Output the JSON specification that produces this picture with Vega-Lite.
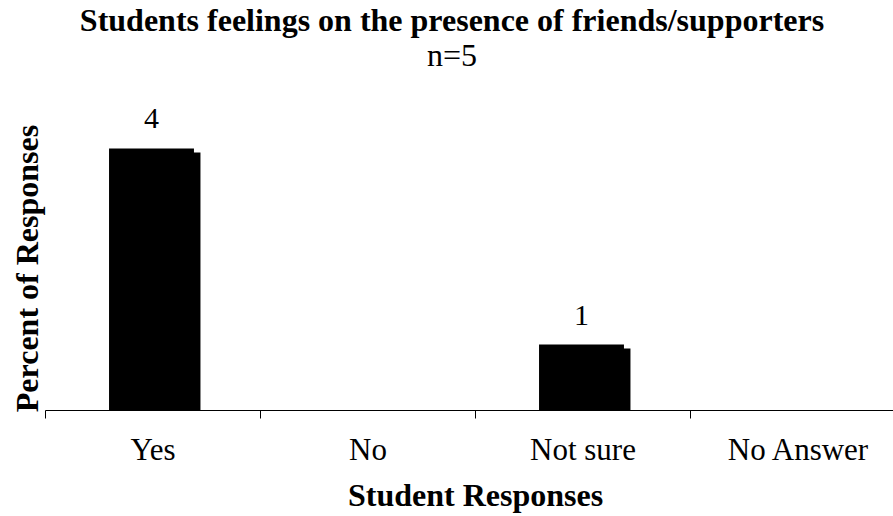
{
  "$schema": "https://vega.github.io/schema/vega-lite/v6.json",
  "autosize": "none",
  "width": 848,
  "height": 327,
  "padding": {"left": 45, "top": 83, "right": 0, "bottom": 106},
  "background": "white",
  "title": {
    "text": "Students feelings on the presence of friends/supporters",
    "subtitle": "n=5",
    "font": "Liberation Serif",
    "fontSize": 32,
    "fontWeight": "bold",
    "color": "black",
    "subtitleFont": "Liberation Serif",
    "subtitleFontSize": 32,
    "subtitleFontWeight": "normal",
    "subtitleColor": "black",
    "subtitlePadding": 3,
    "anchor": "middle",
    "frame": "group",
    "dx": -17,
    "offset": 10
  },
  "data": {
    "values": [
      {"response": "Yes", "count": 4},
      {"response": "No", "count": 0},
      {"response": "Not sure", "count": 1},
      {"response": "No Answer", "count": 0}
    ]
  },
  "transform": [{"filter": "datum.count > 0"}],
  "encoding": {
    "x": {
      "field": "response",
      "type": "nominal",
      "scale": {
        "domain": ["Yes", "No", "Not sure", "No Answer"],
        "range": [0, 860],
        "paddingInner": 0,
        "paddingOuter": 0
      },
      "axis": {
        "title": "Student Responses",
        "titleFont": "Liberation Serif",
        "titleFontSize": 32,
        "titleFontWeight": "bold",
        "titleColor": "black",
        "titleBaseline": "alphabetic",
        "titleY": 95,
        "labelFont": "Liberation Serif",
        "labelFontSize": 31,
        "labelColor": "black",
        "labelAngle": 0,
        "labelBaseline": "alphabetic",
        "labelPadding": 41,
        "tickBand": "extent",
        "tickSize": 8,
        "tickColor": "black",
        "domainColor": "black",
        "grid": false
      }
    },
    "y": {
      "field": "count",
      "type": "quantitative",
      "scale": {"domain": [0, 5]},
      "axis": {
        "title": "Percent of Responses",
        "titleFont": "Liberation Serif",
        "titleFontSize": 32,
        "titleFontWeight": "bold",
        "titleColor": "black",
        "titleAngle": -90,
        "titleAlign": "center",
        "titleBaseline": "alphabetic",
        "titleX": -8,
        "titleY": 185,
        "labels": false,
        "ticks": false,
        "domain": false,
        "grid": false
      }
    }
  },
  "layer": [
    {
      "mark": {"type": "bar", "color": "black", "width": {"band": 0.395}, "xOffset": 5.5, "yOffset": 4, "y2Offset": 0},
      "encoding": {"y2": {"datum": 0}}
    },
    {
      "mark": {"type": "bar", "color": "black", "width": {"band": 0.395}, "xOffset": -1}
    },
    {
      "mark": {"type": "text", "font": "Liberation Serif", "fontSize": 30, "color": "black", "baseline": "alphabetic", "dy": -20, "dx": -1},
      "encoding": {"text": {"field": "count", "type": "quantitative"}}
    }
  ],
  "config": {"view": {"stroke": null}}
}
